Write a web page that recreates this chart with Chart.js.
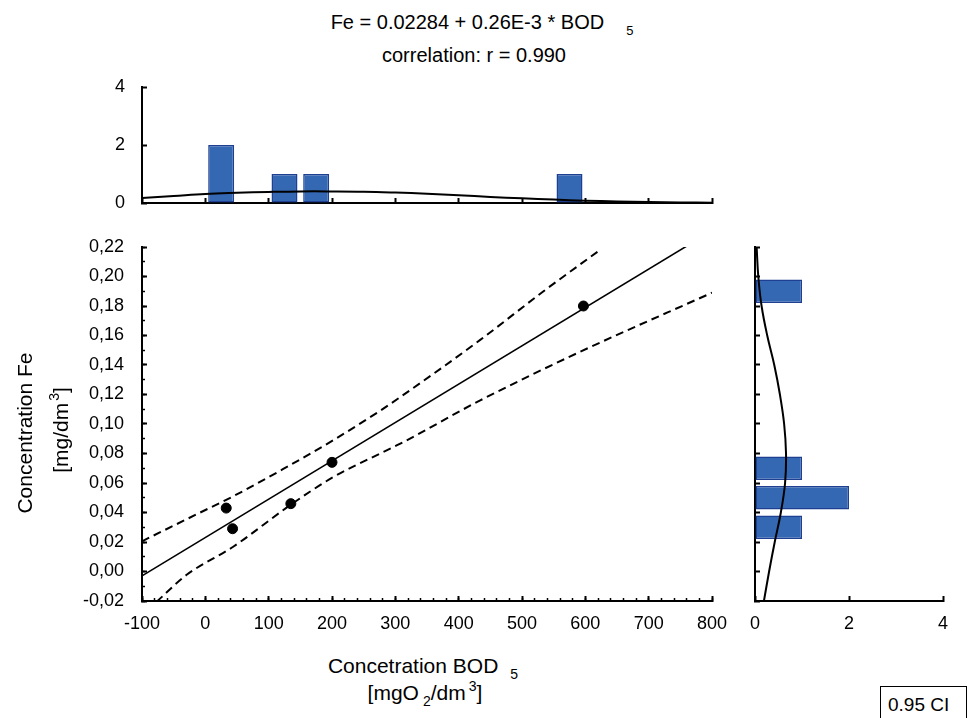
<!DOCTYPE html>
<html>
<head>
<meta charset="utf-8">
<script src="https://cdn.jsdelivr.net/npm/chart.js@4.4.1/dist/chart.umd.min.js"></script>
<style>
  body { margin: 0; background: #fff; font-family: "Liberation Sans", Arial, sans-serif; color: #000; }
  #page { position: relative; width: 967px; height: 718px; overflow: hidden; background: #fff; }
  #page canvas { position: absolute; }
  .lbl { position: absolute; white-space: nowrap; transform: translate(-50%, -50%); line-height: 1; }
  .rot { transform: translate(-50%, -50%) rotate(-90deg); }
  .sm { font-size: 14px; position: relative; }
  .title { font-size: 20px; }
  .axt { font-size: 21px; }
  #ci { position: absolute; left: 880px; top: 686px; width: 78px; height: 40px; border: 1px solid #000;
        font-size: 19px; line-height: 36px; padding-left: 7px; background: #fff; }
</style>
</head>
<body>
<div id="page">
  <div class="lbl title" style="left:482px; top:22px;">Fe = 0.02284 + 0.26E-3 * BOD<span class="sm" style="margin-left:22px; top:6px; font-size:13px;">5</span></div>
  <div class="lbl title" style="left:474px; top:55px;">correlation: r = 0.990</div>

  <canvas id="topHist" width="730" height="150" style="left:0; top:70px;"></canvas>
  <canvas id="mainChart" width="730" height="410" style="left:0; top:230px;"></canvas>
  <canvas id="rightHist" width="237" height="410" style="left:730px; top:230px;"></canvas>

  <div class="lbl axt rot" style="left:24px; top:433px;">Concentration Fe</div>
  <div class="lbl axt rot" style="left:60px; top:430px;">[mg/dm<span class="sm" style="top:-9px; margin-left:2px;">3</span>]</div>
  <div class="lbl axt" style="left:423px; top:665px;">Concetration BOD<span class="sm" style="margin-left:12px; top:6px;">5</span></div>
  <div class="lbl axt" style="left:425px; top:692px;">[mgO<span class="sm" style="margin-left:4px; top:6px;">2</span>/dm<span class="sm" style="margin-left:3px; top:-9px;">3</span>]</div>
  <div id="ci">0.95 CI</div>
</div>

<script>
// measured points: BOD5 [mgO2/dm3] vs Fe [mg/dm3]
const bodValues = [33, 43, 135, 200, 597];
const feValues = [0.043, 0.029, 0.046, 0.074, 0.180];

// fitted line and 0.95 confidence band
const regX = [-100, 800];
const regY = [-0.003, 0.231];
const ciUpperX = [-100, -8, 44, 123, 202, 276, 307, 434, 534, 620];
const ciUpperY = [0.0205, 0.040, 0.051, 0.0695, 0.089, 0.109, 0.118, 0.157, 0.190, 0.217];
const ciLowerX = [-77, -30, 44, 134, 202, 276, 307, 434, 592, 800];
const ciLowerY = [-0.0205, -0.0024, 0.0168, 0.045, 0.064, 0.080, 0.0865, 0.116, 0.149, 0.189];

// BOD5 histogram (bin midpoints, counts) + normal curve
const bodBinMids = [25, 125, 175, 575];
const bodCounts = [2, 1, 1, 1];
const bodCurveX = [-100, -50, 0, 50, 100, 150, 200, 250, 300, 350, 400, 450, 500, 550, 600, 650, 700, 750, 800];
const bodCurveY = [0.17, 0.24, 0.31, 0.35, 0.38, 0.40, 0.40, 0.39, 0.36, 0.32, 0.27, 0.21, 0.16, 0.12, 0.08, 0.055, 0.035, 0.02, 0.012];

// Fe histogram (bin midpoints, counts) + normal curve
const feBinMids = [0.03, 0.05, 0.07, 0.19];
const feCounts = [1, 2, 1, 1];
const feCurveY = [-0.02, 0.00, 0.02, 0.04, 0.06, 0.08, 0.10, 0.12, 0.14, 0.16, 0.18, 0.20, 0.22];
const feCurveX = [0.19, 0.30, 0.42, 0.55, 0.64, 0.66, 0.62, 0.53, 0.41, 0.26, 0.14, 0.07, 0.035];

// axis ranges and tick steps
const bodRange = [-100, 800], bodStep = 100, bodMinorStep = 20;
const feRange = [-0.02, 0.22], feStep = 0.02, feMinorStep = 0.01;
const countRange = [0, 4], countStep = 2;

const BAR_FILL = '#3468b2';
const BAR_EDGE = '#1f3f93';

Chart.defaults.font.family = '"Liberation Sans", Arial, sans-serif';
Chart.defaults.font.size = 18;
Chart.defaults.color = '#000';

const pts = (xs, ys) => xs.map((x, i) => ({ x, y: ys[i] }));
const feLabel = v => (Math.abs(v) < 1e-9 ? 0 : v).toFixed(2).replace('.', ',');

// axis with ticks pointing into the plot; size fixed so the three charts line up
function axis(position, range, step, opts = {}) {
  const horizontal = position === 'bottom';
  return {
    type: 'linear', position, min: range[0], max: range[1], offset: false,
    weight: opts.weight ?? 1,
    ticks: {
      stepSize: step, display: opts.labels ?? false, padding: opts.padding ?? 20,
      maxRotation: 0, autoSkip: false, callback: opts.format
    },
    grid: {
      offset: false, drawOnChartArea: false, tickLength: opts.tick ?? -5,
      tickWidth: opts.tickWidth ?? 2, tickColor: '#000'
    },
    border: { display: opts.border ?? true, color: '#000', width: 2 },
    afterFit: s => {
      if (horizontal) s.height = opts.size; else s.width = opts.size;
      s.paddingLeft = s.paddingRight = s.paddingTop = s.paddingBottom = 0;
    }
  };
}

const baseOpts = {
  responsive: false, animation: false, events: [],
  plugins: { legend: { display: false }, tooltip: { enabled: false } }
};

const bandStyle = {
  showLine: true, pointRadius: 0, borderColor: '#000', borderWidth: 2,
  borderDash: [8, 5], cubicInterpolationMode: 'monotone', order: 1
};

// main scatter
new Chart(document.getElementById('mainChart'), {
  type: 'scatter',
  data: {
    datasets: [
      { data: pts(bodValues, feValues), pointRadius: 5, pointBackgroundColor: '#000', pointBorderColor: '#000', order: 0 },
      { data: pts(regX, regY), showLine: true, pointRadius: 0, borderColor: '#000', borderWidth: 1.6, order: 1 },
      { data: pts(ciUpperX, ciUpperY), ...bandStyle },
      { data: pts(ciLowerX, ciLowerY), ...bandStyle }
    ]
  },
  options: {
    ...baseOpts,
    layout: { padding: { top: 17, right: 18, left: 0, bottom: 0 } },
    scales: {
      x: axis('bottom', bodRange, bodStep, { labels: true, padding: 17, size: 39 }),
      xMinor: axis('bottom', bodRange, bodMinorStep, { weight: 0, tick: -3, tickWidth: 1.5, border: false, size: 0 }),
      y: axis('left', feRange, feStep, { labels: true, padding: 23, size: 142, format: feLabel }),
      yMinor: axis('left', feRange, feMinorStep, { weight: 0, tick: -3, tickWidth: 1.5, border: false, size: 0 })
    }
  }
});

// BOD5 histogram on top
new Chart(document.getElementById('topHist'), {
  type: 'bar',
  data: {
    datasets: [
      { type: 'line', data: pts(bodCurveX, bodCurveY), borderColor: '#000', borderWidth: 2, pointRadius: 0,
        tension: 0.4, order: 0 },
      { type: 'bar', data: pts(bodBinMids, bodCounts), backgroundColor: BAR_FILL, borderColor: BAR_EDGE,
        borderWidth: 1.5, borderSkipped: false, barPercentage: 0.82, categoryPercentage: 1, order: 1 }
    ]
  },
  options: {
    ...baseOpts,
    layout: { padding: { top: 17, right: 18, left: 0, bottom: 0 } },
    scales: {
      x: axis('bottom', bodRange, bodStep, { size: 17 }),
      y: axis('left', countRange, countStep, { labels: true, padding: 22, size: 142 })
    }
  }
});

// Fe histogram on the right
new Chart(document.getElementById('rightHist'), {
  type: 'bar',
  data: {
    datasets: [
      { type: 'line', data: pts(feCurveX, feCurveY), borderColor: '#000', borderWidth: 2, pointRadius: 0,
        tension: 0.4, order: 0 },
      { type: 'bar', indexAxis: 'y', data: pts(feCounts, feBinMids), backgroundColor: BAR_FILL, borderColor: BAR_EDGE,
        borderWidth: 1.5, borderSkipped: false, barPercentage: 0.8, categoryPercentage: 1, order: 1 }
    ]
  },
  options: {
    ...baseOpts,
    layout: { padding: { top: 17, right: 24, left: 0, bottom: 0 } },
    scales: {
      x: axis('bottom', countRange, countStep, { labels: true, padding: 17, size: 39 }),
      y: axis('left', feRange, feStep, { size: 25 })
    }
  }
});
</script>
</body>
</html>
